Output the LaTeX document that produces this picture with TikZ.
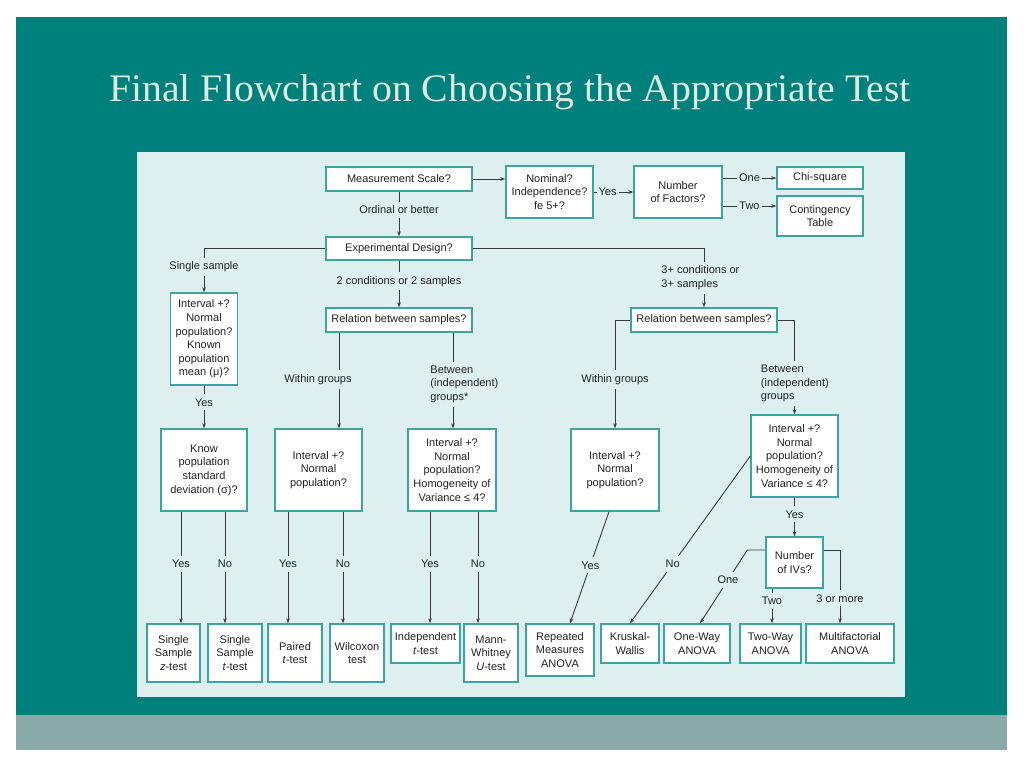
\documentclass[tikz,border=0pt]{standalone}
\usepackage{fontspec}
\setmainfont{Liberation Sans}
\newfontfamily\titlefont{Liberation Serif}
\usetikzlibrary{arrows.meta}
\definecolor{teal0}{HTML}{00807C}
\definecolor{band}{HTML}{8AAAA9}
\definecolor{panel}{HTML}{DDEFEF}
\definecolor{boxc}{HTML}{3AA5A1}
\definecolor{linec}{HTML}{3A3A3A}
\definecolor{txt}{HTML}{222222}
\definecolor{titlec}{HTML}{DCEBDD}
\newcommand{\labfont}{\fontsize{11}{13.6}\selectfont}
\begin{document}
\begin{tikzpicture}[x=1pt,y=-1pt,
  box/.style={draw=boxc, fill=white, line width=1.4pt, align=center, inner sep=0pt, font=\labfont, text=txt},
  lbl/.style={fill=panel, inner xsep=2pt, inner ysep=4pt, font=\labfont, text=txt, align=center},
  conn/.style={draw=linec, line width=0.9pt},
  arr/.style={conn, -{Stealth[length=5pt,width=3.6pt]}},
]
\useasboundingbox (0,0) rectangle (1024,768);
\fill[white] (0,0) rectangle (1024,768);
\fill[teal0] (16,17) rectangle (1007,715);
\fill[band] (16,715) rectangle (1007,750);
\node[font=\titlefont\fontsize{39}{42}\selectfont, text=titlec, anchor=base, inner sep=0pt] (title) at (510,101)
  {\scalebox{1.02}[1]{Final Flowchart on Choosing the Appropriate Test}};
\fill[panel] (137,152) rectangle (905,697);

% boxes
\node[box, minimum width=146pt, minimum height=24pt] (ms) at (399,179) {Measurement Scale?};
\node[box, minimum width=87pt, minimum height=52pt] (nom) at (549.5,192) {Nominal?\\Independence?\\fe 5+?};
\node[box, minimum width=88pt, minimum height=52pt] (nf) at (678,192) {Number\\of Factors?};
\node[box, minimum width=86pt, minimum height=22pt] (chi) at (820,178) {Chi-square};
\node[box, minimum width=86pt, minimum height=40pt] (ct) at (820,216) {Contingency\\Table};
\node[box, minimum width=146pt, minimum height=23pt] (ed) at (399,248.5) {Experimental Design?};
\node[box, minimum width=67pt, minimum height=92pt] (b1) at (204,339) {Interval +?\\Normal\\population?\\Known\\population\\mean (μ)?};
\node[box, minimum width=86pt, minimum height=82pt] (kb) at (204,470) {Know\\population\\standard\\deviation (σ)?};
\node[box, minimum width=146pt, minimum height=24pt] (r1) at (399,320) {Relation between samples?};
\node[box, minimum width=87pt, minimum height=82pt] (b2) at (318.5,470) {Interval +?\\Normal\\population?};
\node[box, minimum width=88pt, minimum height=82pt] (b3) at (452,470) {Interval +?\\Normal\\population?\\Homogeneity of\\Variance ≤ 4?};
\node[box, minimum width=146pt, minimum height=24pt] (r2) at (704,320) {Relation between samples?};
\node[box, minimum width=88pt, minimum height=82pt] (b4) at (615,470) {Interval +?\\Normal\\population?};
\node[box, minimum width=87pt, minimum height=82pt] (b5) at (794.5,456) {Interval +?\\Normal\\population?\\Homogeneity of\\Variance ≤ 4?};
\node[box, minimum width=57pt, minimum height=51pt] (niv) at (794.5,562.5) {Number\\of IVs?};
\node[box, minimum width=53pt, minimum height=58pt] (z) at (173.5,653) {Single\\Sample\\\textit{z}-test};
\node[box, minimum width=54pt, minimum height=58pt] (st) at (235,653) {Single\\Sample\\\textit{t}-test};
\node[box, minimum width=54pt, minimum height=58pt] (pt) at (295,653) {Paired\\\textit{t}-test};
\node[box, minimum width=54pt, minimum height=58pt] (wx) at (357,653) {Wilcoxon\\test};
\node[box, minimum width=69pt, minimum height=39pt] (it) at (425.5,643.5) {Independent\\\textit{t}-test};
\node[box, minimum width=54pt, minimum height=58pt] (mw) at (491,653) {Mann-\\Whitney\\\textit{U}-test};
\node[box, minimum width=68pt, minimum height=52pt] (rm) at (560,650) {Repeated\\Measures\\ANOVA};
\node[box, minimum width=58pt, minimum height=39pt] (kw) at (630,643.5) {Kruskal-\\Wallis};
\node[box, minimum width=66pt, minimum height=39pt] (ow) at (697,643.5) {One-Way\\ANOVA};
\node[box, minimum width=61pt, minimum height=39pt] (tw) at (770.5,643.5) {Two-Way\\ANOVA};
\node[box, minimum width=88pt, minimum height=39pt] (mf) at (850,643.5) {Multifactorial\\ANOVA};

% helper coordinates
\coordinate (ctin) at ([yshift=10pt]ct.west);
\coordinate (r1l) at ([xshift=-60pt]r1.south);
\coordinate (r1r) at ([xshift=54pt]r1.south);
\coordinate (kbl) at ([xshift=-23pt]kb.south);
\coordinate (kbr) at ([xshift=21pt]kb.south);
\coordinate (b2l) at ([xshift=-30.5pt]b2.south);
\coordinate (b2r) at ([xshift=24.5pt]b2.south);
\coordinate (b3l) at ([xshift=-22pt]b3.south);
\coordinate (b3r) at ([xshift=26pt]b3.south);
\coordinate (b4s) at ([xshift=-6pt]b4.south);
\coordinate (nivw) at ([yshift=12.5pt]niv.west);
\coordinate (nivc) at ([xshift=-18pt]nivw);
\coordinate (nive) at ([yshift=12.5pt]niv.east);
\coordinate (nivs) at ([xshift=-22.5pt]niv.south);

% connectors
\draw[arr] (ms.east) -- (ms.east -| nom.west);
\draw[arr] (nom.east) -- node[lbl, pos=.35]{Yes} (nf.west);
\draw[arr] (nf.east |- chi.west) -- node[lbl]{One} (chi.west);
\draw[arr] (nf.east |- ctin) -- node[lbl]{Two} (ctin);
\draw[arr] (ms.south) -- node[lbl, pos=.41]{Ordinal or better} (ed.north);
\draw[arr] (ed.south) -- node[lbl, pos=.44]{2 conditions or 2 samples} (r1.north);
\draw[arr] (ed.west) -| node[lbl, pos=.71]{Single sample} (b1.north);
\draw[arr] (ed.east) -| node[lbl, pos=.75, anchor=west, xshift=-45pt, align=left]{3+ conditions or\\3+ samples} (r2.north);
\draw[arr] (b1.south) -- node[lbl, pos=.39]{Yes} (kb.north);
\draw[arr] (kbl) -- node[lbl, pos=.47]{Yes} (kbl |- z.north);
\draw[arr] (kbr) -- node[lbl, pos=.47]{No} (kbr |- st.north);
\draw[arr] (r1l) -- node[lbl, pos=.49, xshift=-21pt]{Within groups} (r1l |- b2.north);
\draw[arr] (r1r) -- node[lbl, pos=.54, anchor=west, xshift=-25pt, align=left]{Between\\(independent)\\groups*} (r1r |- b3.north);
\draw[arr] (b2l) -- node[lbl, pos=.47]{Yes} (b2l |- pt.north);
\draw[arr] (b2r) -- node[lbl, pos=.47]{No} (b2r |- wx.north);
\draw[arr] (b3l) -- node[lbl, pos=.47]{Yes} (b3l |- it.north);
\draw[arr] (b3r) -- node[lbl, pos=.47]{No} (b3r |- mw.north);
\draw[arr] (r2.west) -| node[lbl, pos=.775]{Within groups} (b4.north);
\draw[arr] (r2.east) -| node[lbl, pos=.837, anchor=west, xshift=-36pt, align=left]{Between\\(independent)\\groups} (b5.north);
\draw[arr] (b4s) -- node[lbl, pos=.48]{Yes} ([xshift=10pt]rm.north);
\draw[arr] (b5.west) -- node[lbl, pos=.645]{No} (kw.north);
\draw[arr] (b5.south) -- node[lbl, pos=.43]{Yes} (niv.north);
\draw[arr] (nivw) -- (nivc) -- node[lbl, pos=.41]{One} ([xshift=3pt]ow.north);
\draw[arr] (nivs) -- node[lbl, pos=.36]{Two} (nivs |- tw.north);
\draw[arr] (nive) -| node[lbl, pos=.83]{3 or more} ([xshift=-10pt]mf.north);
\end{tikzpicture}
\end{document}
